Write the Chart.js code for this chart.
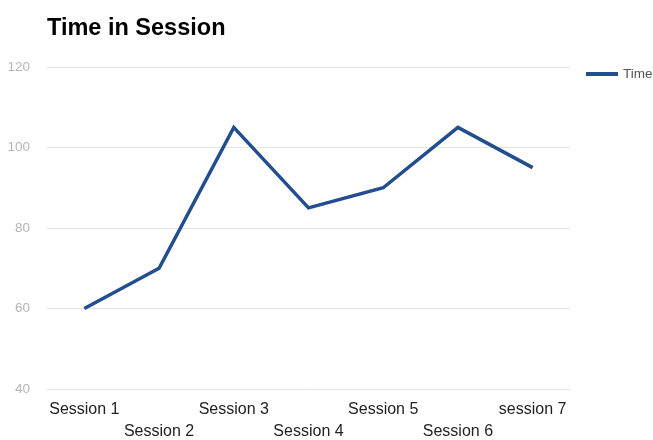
<!DOCTYPE html>
<html>
<head>
<meta charset="utf-8">
<script src="https://cdn.jsdelivr.net/npm/chart.js@4"></script>
<style>
  html, body { margin: 0; padding: 0; background: #fff; }
  #wrap { position: relative; width: 653px; height: 440px; }
</style>
</head>
<body>
<div id="wrap"><canvas id="chart" width="653" height="440"></canvas></div>
<script>
const categories = ['Session 1', 'Session 2', 'Session 3', 'Session 4', 'Session 5', 'Session 6', 'session 7'];
const timeValues = [60, 70, 105, 85, 90, 105, 95];
const yTicks = [40, 60, 80, 100, 120];
const seriesName = 'Time';
const chartTitle = 'Time in Session';

const lineColor = '#224d8e';
const font = 'Arial, "Liberation Sans", sans-serif';

// title + legend drawn by hand so they sit where the original has them
const decorations = {
  id: 'decorations',
  afterDraw(chart) {
    const ctx = chart.ctx;
    ctx.save();
    ctx.fillStyle = '#000';
    ctx.font = 'bold 23.5px ' + font;
    ctx.textBaseline = 'alphabetic';
    ctx.fillText(chartTitle, 47, 35);

    ctx.strokeStyle = lineColor;
    ctx.lineWidth = 4;
    ctx.beginPath();
    ctx.moveTo(586, 74);
    ctx.lineTo(618, 74);
    ctx.stroke();
    ctx.fillStyle = '#555';
    ctx.font = '13.5px ' + font;
    ctx.textBaseline = 'middle';
    ctx.fillText(chart.data.datasets[0].label, 623, 74);
    ctx.restore();
  }
};

new Chart(document.getElementById('chart'), {
  type: 'line',
  data: {
    labels: categories,
    datasets: [{
      label: seriesName,
      data: timeValues,
      borderColor: lineColor,
      borderWidth: 3.5,
      pointRadius: 0,
      tension: 0,
      fill: false
    }]
  },
  options: {
    responsive: false,
    animation: false,
    layout: { padding: { top: 67, right: 83, left: 0, bottom: 0 } },
    plugins: { legend: { display: false }, title: { display: false }, tooltip: { enabled: false } },
    scales: {
      x: {
        offset: true,
        grid: { display: false },
        border: { display: false },
        afterFit(scale) { scale.height = 51; },
        ticks: {
          autoSkip: false,
          maxRotation: 0,
          color: '#222',
          padding: 1,
          font: { family: font, size: 16, lineHeight: 1.4 },
          callback(value, index) {
            const name = categories[index];
            return index % 2 === 0 ? [name, ''] : ['', name];
          }
        }
      },
      y: {
        min: yTicks[0],
        max: yTicks[yTicks.length - 1],
        afterFit(scale) { scale.width = 47; },
        grid: { color: '#e3e3e3', drawTicks: false },
        border: { display: false },
        ticks: {
          stepSize: 20,
          padding: 17,
          color: '#b5b5b5',
          font: { family: font, size: 13.5 }
        }
      }
    }
  },
  plugins: [decorations]
});
</script>
</body>
</html>
